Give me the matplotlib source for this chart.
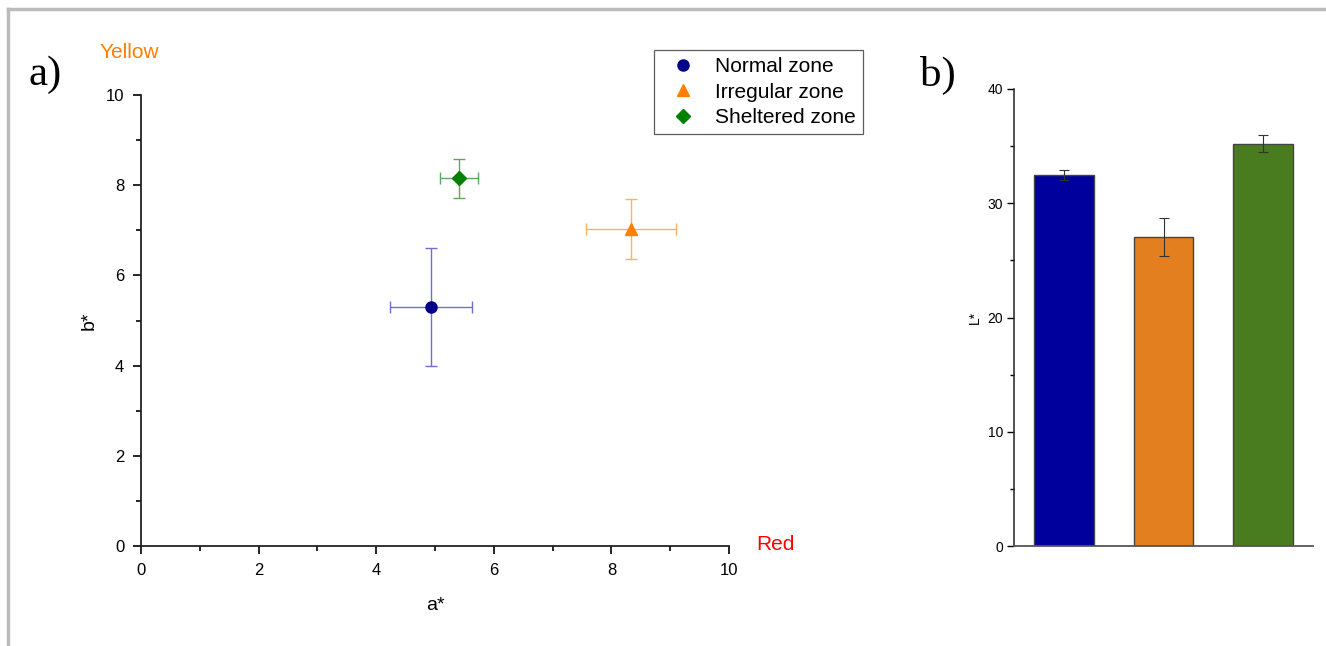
import matplotlib
matplotlib.use("Agg")
import matplotlib.pyplot as plt
from matplotlib.ticker import MultipleLocator
from matplotlib.lines import Line2D

plt.rcParams['font.family'] = ['Liberation Sans', 'DejaVu Sans']

# ---- data: panel a (a*, b* scatter) ----
zones = ["Normal zone", "Irregular zone", "Sheltered zone"]
a_star = [4.93, 8.33, 5.41]
b_star = [5.30, 7.03, 8.15]
a_err = [0.70, 0.77, 0.32]
b_err = [1.30, 0.67, 0.43]
markers = ["o", "^", "D"]
marker_colors = ["#00008b", "#ff7f00", "#008000"]
err_colors = ["#7070d0", "#ffb060", "#60a860"]

# ---- data: panel b (L* bars) ----
L_star = [32.45, 27.05, 35.2]
L_err = [0.45, 1.7, 0.75]
bar_colors = ["#00009c", "#e37f1f", "#487c1e"]

fig = plt.figure(figsize=(13.26, 6.46), dpi=100)

# frame lines (top and left)
fig.add_artist(Line2D([8/1326, 1.0], [1-9/646, 1-9/646], transform=fig.transFigure,
                      color="#bbbbbb", lw=2.5))
fig.add_artist(Line2D([8/1326, 8/1326], [0, 1-9/646], transform=fig.transFigure,
                      color="#bbbbbb", lw=2.5))

# ---- panel a ----
ax = fig.add_axes([141/1326, 1-546/646, 588/1326, 451/646])
handles = []
for i in range(len(zones)):
    ax.errorbar(a_star[i], b_star[i], xerr=a_err[i], yerr=b_err[i], fmt="none",
                ecolor=err_colors[i], elinewidth=1.0, capsize=4, capthick=1.0, zorder=2)
    h = ax.plot(a_star[i], b_star[i], linestyle="none", marker=markers[i],
                color=marker_colors[i], markersize=8 if markers[i] != "D" else 7,
                label=zones[i], zorder=3)[0]
    handles.append(h)
ax.set_xlim(0, 10)
ax.set_ylim(0, 10)
ax.xaxis.set_major_locator(MultipleLocator(2))
ax.xaxis.set_minor_locator(MultipleLocator(1))
ax.yaxis.set_major_locator(MultipleLocator(2))
ax.yaxis.set_minor_locator(MultipleLocator(1))
for s in ["top", "right"]:
    ax.spines[s].set_visible(False)
for s in ["left", "bottom"]:
    ax.spines[s].set_linewidth(1.3)
    ax.spines[s].set_color("#222222")
ax.tick_params(which="major", direction="out", length=6, width=1.2, labelsize=12, pad=6)
ax.tick_params(which="minor", direction="out", length=3.5, width=1.2)
ax.set_xlabel("a*", fontsize=14, labelpad=14)
ax.set_ylabel("b*", fontsize=14, labelpad=6)

leg = fig.legend(handles=handles, loc="upper right",
                 bbox_to_anchor=(863/1326, 1-50/646), bbox_transform=fig.transFigure,
                 fontsize=15, frameon=True, fancybox=False, edgecolor="#333333",
                 handletextpad=0.5, borderpad=0.33, labelspacing=0.32, handlelength=2.1,
                 borderaxespad=0)
leg.get_frame().set_linewidth(0.9)

fig.text(100/1326, 1-53/646, "Yellow", color="#ff7f00", fontsize=15, va="center", ha="left")
fig.text(756/1326, 1-545/646, "Red", color="#ff0000", fontsize=15, va="center", ha="left")
fig.text(29/1326, 1-75/646, "a)", family="Liberation Serif", fontsize=31, va="center", ha="left")
fig.text(920/1326, 1-75/646, "b)", family="Liberation Serif", fontsize=31, va="center", ha="left")

# ---- panel b ----
bx = fig.add_axes([1014/1326, 1-546/646, 299/1326, 457/646])
xs = list(range(len(L_star)))
bx.bar(xs, L_star, width=0.6, color=bar_colors, edgecolor="#444444", linewidth=1.0,
       yerr=L_err, error_kw=dict(ecolor="#333333", elinewidth=0.8, capsize=3.5, capthick=0.8))
bx.set_xlim(-0.5, 2.5)
bx.set_ylim(0, 40)
bx.set_xticks([])
bx.yaxis.set_major_locator(MultipleLocator(10))
bx.yaxis.set_minor_locator(MultipleLocator(5))
for s in ["top", "right"]:
    bx.spines[s].set_visible(False)
bx.spines["left"].set_linewidth(1.1)
bx.spines["left"].set_color("#222222")
bx.spines["bottom"].set_linewidth(1.3)
bx.spines["bottom"].set_color("#555555")
bx.tick_params(which="major", direction="out", length=5, width=1.0, labelsize=10, pad=3)
bx.tick_params(which="minor", direction="out", length=3, width=1.0)
bx.set_ylabel("L*", fontsize=10, labelpad=4)

fig.savefig("out.png", dpi=100)
